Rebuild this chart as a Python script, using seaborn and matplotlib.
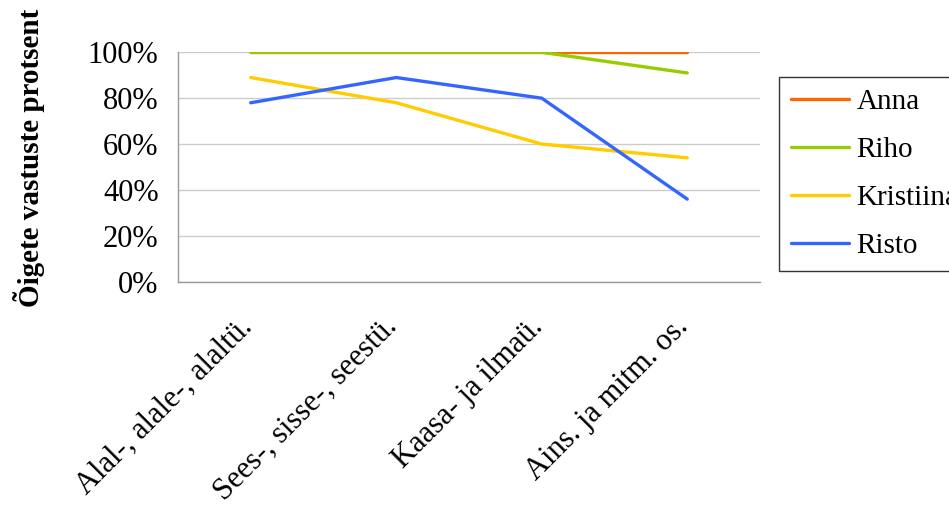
import matplotlib
matplotlib.use('Agg')
import matplotlib.pyplot as plt
from matplotlib.ticker import PercentFormatter, FixedLocator
import seaborn as sns
import pandas as pd

categories = ['Alal-, alale-, alaltü.', 'Sees-, sisse-, seestü.',
              'Kaasa- ja ilmaü.', 'Ains. ja mitm. os.']
students = ['Anna', 'Riho', 'Kristiina', 'Risto']
anna = [100, 100, 100, 100]
riho = [100, 100, 100, 91]
kristiina = [89, 78, 60, 54]
risto = [78, 89, 80, 36]
colors = ['#ff6600', '#99cc00', '#ffcc00', '#3366ff']
y_ticks = [0, 20, 40, 60, 80, 100]

rows = []
for name, vals in zip(students, [anna, riho, kristiina, risto]):
    for i, v in enumerate(vals):
        rows.append({'pos': i, 'Õpilane': name, 'protsent': v})
df = pd.DataFrame(rows)

sns.set_style('white')
plt.rcParams['font.family'] = ['Liberation Serif', 'DejaVu Serif']
plt.rcParams['text.color'] = 'black'
plt.rcParams['xtick.labelcolor'] = 'black'
plt.rcParams['ytick.labelcolor'] = 'black'
plt.rcParams['axes.labelcolor'] = 'black'

fig = plt.figure(figsize=(9.49, 5.05), dpi=100)
ax = fig.add_axes([178 / 949, 1 - 281.7 / 505, (760 - 178) / 949, (281.7 - 52.3) / 505])

sns.lineplot(data=df, x='pos', y='protsent', hue='Õpilane', hue_order=students,
             palette=colors, linewidth=2.4, ax=ax, sort=False, legend=False)

ax.set_xlim(-0.5, 3.5)
ax.set_ylim(0, 100)
ax.set_yticks(y_ticks)
ax.yaxis.set_major_formatter(PercentFormatter(xmax=100, decimals=0))
ax.grid(True, axis='y', color='#cccccc', linewidth=1)
ax.set_axisbelow(True)

# labels sit a touch right of the category centre, like the original
ax.set_xticks([i + 0.05 for i in range(len(categories))])
ax.set_xticklabels(categories, rotation=45, ha='right', va='top', fontsize=22)
ax.xaxis.set_minor_locator(FixedLocator([-0.5, 0.5, 1.5, 2.5, 3.5]))
ax.tick_params(axis='x', which='major', length=0, pad=22)
ax.tick_params(axis='x', which='minor', length=10, color='#999999', width=1, direction='out')
ax.tick_params(axis='y', length=10, color='#999999', width=1, direction='out',
               labelsize=22, pad=4)

for side in ['top', 'right']:
    ax.spines[side].set_visible(False)
for side in ['left', 'bottom']:
    ax.spines[side].set_color('#999999')
    ax.spines[side].set_linewidth(1)

ax.set_xlabel('')
ax.set_ylabel('Õigete vastuste protsent', fontsize=21, fontweight='bold')
ax.yaxis.set_label_coords(-0.228, 0.54)

handles = ax.get_lines()[:len(students)]
leg = fig.legend(handles, students, loc='upper left',
                 bbox_to_anchor=(779 / 949, 1 - 77 / 505), fontsize=21,
                 frameon=True, fancybox=False, edgecolor='black',
                 handlelength=2.0, handletextpad=0.25, labelspacing=0.74,
                 borderpad=0.4, borderaxespad=0)
leg.get_frame().set_linewidth(1)

plt.savefig('out.png', dpi=100)
